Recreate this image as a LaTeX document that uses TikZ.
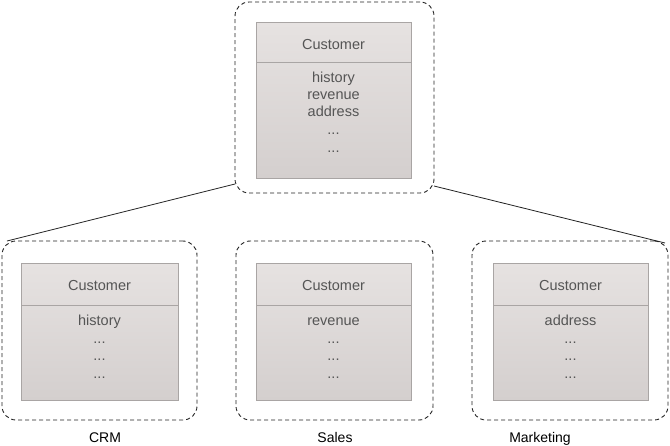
\documentclass[tikz,border=0pt]{standalone}
\usepackage{fontspec}
\setmainfont{Liberation Sans}
\definecolor{txtgray}{HTML}{555555}
\definecolor{boxtop}{HTML}{E6E2E1}
\definecolor{boxbot}{HTML}{D4CFCE}
\definecolor{boxedge}{HTML}{A9A5A4}
\definecolor{dashcol}{HTML}{222222}
\begin{document}
\begin{tikzpicture}[x=1pt,y=-1pt,
  outerbox/.style={draw=dashcol,line width=0.9pt,dash pattern=on 4pt off 3pt,rounded corners=14pt,minimum width=#1,inner sep=0pt,outer sep=0pt},
  classbox/.style={draw=boxedge,line width=0.6pt,top color=boxtop,bottom color=boxbot,inner sep=0pt,outer sep=0pt,minimum width=#1},
  ctext/.style={text=txtgray,font=\fontsize{14.5}{16}\selectfont,inner sep=0pt,anchor=base},
  ltext/.style={text=black,font=\fontsize{14}{16}\selectfont,inner sep=0pt,anchor=base},
  link/.style={draw=dashcol,line width=0.8pt}]
\useasboundingbox (0,0) rectangle (670,445);
% outer dashed boxes
\node[outerbox=199pt,minimum height=191pt] (top) at (334.5,97.5) {};
\node[outerbox=195pt,minimum height=179pt] (crm) at (99.5,330.5) {};
\node[outerbox=197pt,minimum height=179pt] (sales) at (334.5,330.5) {};
\node[outerbox=196pt,minimum height=179pt] (mkt) at (570,330.5) {};
% connectors
\draw[link] ([yshift=9pt]top.south west) -- ([xshift=5pt]crm.north west);
\draw[link] ([yshift=7pt]top.south east) -- ([xshift=-3pt,yshift=-2pt]mkt.north east);
% top class
\node[classbox=155pt,minimum height=156pt] (ctop) at (333.5,100) {};
\draw[boxedge,line width=0.6pt] (ctop.west |- 0,62) -- (ctop.east |- 0,62);
\node[ctext] (ct0) at (333.5,49) {Customer};
\node[ctext] (ct1) at (333.5,82.5) {history};
\node[ctext] (ct2) at (333.5,99.5) {revenue};
\node[ctext] (ct3) at (333.5,116.5) {address};
\node[ctext] (ct4) at (333.5,134.5) {...};
\node[ctext] (ct5) at (333.5,152) {...};
% CRM class
\node[classbox=157pt,minimum height=137pt] (ccrm) at (99.5,331.5) {};
\draw[boxedge,line width=0.6pt] (ccrm.west |- 0,305) -- (ccrm.east |- 0,305);
\node[ctext] (cc0) at (99.5,290.5) {Customer};
\node[ctext] (cc1) at (99.5,325) {history};
\node[ctext] (cc2) at (99.5,343) {...};
\node[ctext] (cc3) at (99.5,360.5) {...};
\node[ctext] (cc4) at (99.5,378) {...};
% Sales class
\node[classbox=155pt,minimum height=137pt] (csal) at (333.5,331.5) {};
\draw[boxedge,line width=0.6pt] (csal.west |- 0,305) -- (csal.east |- 0,305);
\node[ctext] (cs0) at (333.5,290.5) {Customer};
\node[ctext] (cs1) at (333.5,325) {revenue};
\node[ctext] (cs2) at (333.5,343) {...};
\node[ctext] (cs3) at (333.5,360.5) {...};
\node[ctext] (cs4) at (333.5,378) {...};
% Marketing class
\node[classbox=155pt,minimum height=137pt] (cmkt) at (570.5,331.5) {};
\draw[boxedge,line width=0.6pt] (cmkt.west |- 0,305) -- (cmkt.east |- 0,305);
\node[ctext] (cm0) at (570.5,290.5) {Customer};
\node[ctext] (cm1) at (570.5,325) {address};
\node[ctext] (cm2) at (570.5,343) {...};
\node[ctext] (cm3) at (570.5,360.5) {...};
\node[ctext] (cm4) at (570.5,378) {...};
% labels
\node[ltext] (lcrm) at (105,442) {CRM};
\node[ltext] (lsal) at (335,442) {Sales};
\node[ltext] (lmkt) at (540,442) {Marketing};
\end{tikzpicture}
\end{document}
